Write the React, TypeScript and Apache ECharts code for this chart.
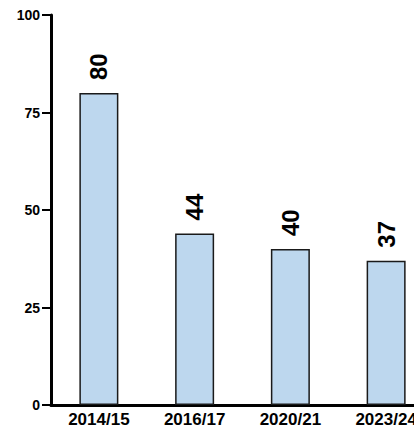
import React, { useEffect, useRef } from "react";
import * as echarts from "echarts";

const categories = ["2014/15", "2016/17", "2020/21", "2023/24"];
const values = [80, 44, 40, 37];
const yTicks = [0, 25, 50, 75, 100];

const font = '"Liberation Sans", Arial, Helvetica, sans-serif';

export default function App() {
  const ref = useRef<HTMLDivElement>(null);
  useEffect(() => {
    if (!ref.current) return;
    const chart = echarts.init(ref.current, null, { renderer: "svg" });
    chart.setOption({
      animation: false,
      grid: { left: 51, top: 15, bottom: 25, right: -20, outerBoundsMode: "none", containLabel: false },
      xAxis: {
        type: "category",
        data: categories,
        axisLine: { show: true, lineStyle: { color: "#000", width: 3 } },
        axisTick: { show: false },
        axisLabel: {
          color: "#000",
          fontFamily: font,
          fontWeight: "bold",
          fontSize: 17,
          margin: 6,
          interval: 0,
        },
      },
      yAxis: {
        type: "value",
        min: yTicks[0],
        max: yTicks[yTicks.length - 1],
        interval: 25,
        splitLine: { show: false },
        axisLine: { show: true, lineStyle: { color: "#000", width: 3 } },
        axisTick: { show: true, length: 9, lineStyle: { color: "#000", width: 2 } },
        axisLabel: {
          color: "#000",
          fontFamily: font,
          fontWeight: "bold",
          fontSize: 14,
          margin: 11,
        },
      },
      series: [
        {
          type: "bar",
          data: values,
          barWidth: 39,
          itemStyle: { color: "#bdd7ee", borderColor: "#1a1a1a", borderWidth: 1.5 },
          label: {
            show: true,
            position: "top",
            rotate: 90,
            align: "left",
            verticalAlign: "middle",
            distance: 13,
            color: "#000",
            fontFamily: font,
            fontWeight: "bold",
            fontSize: 24,
          },
        },
      ],
    });
    return () => chart.dispose();
  }, []);
  return (
    <div
      ref={ref}
      style={{ position: "fixed", left: 0, top: 0, width: 414, height: 430, background: "#fff" }}
    />
  );
}
